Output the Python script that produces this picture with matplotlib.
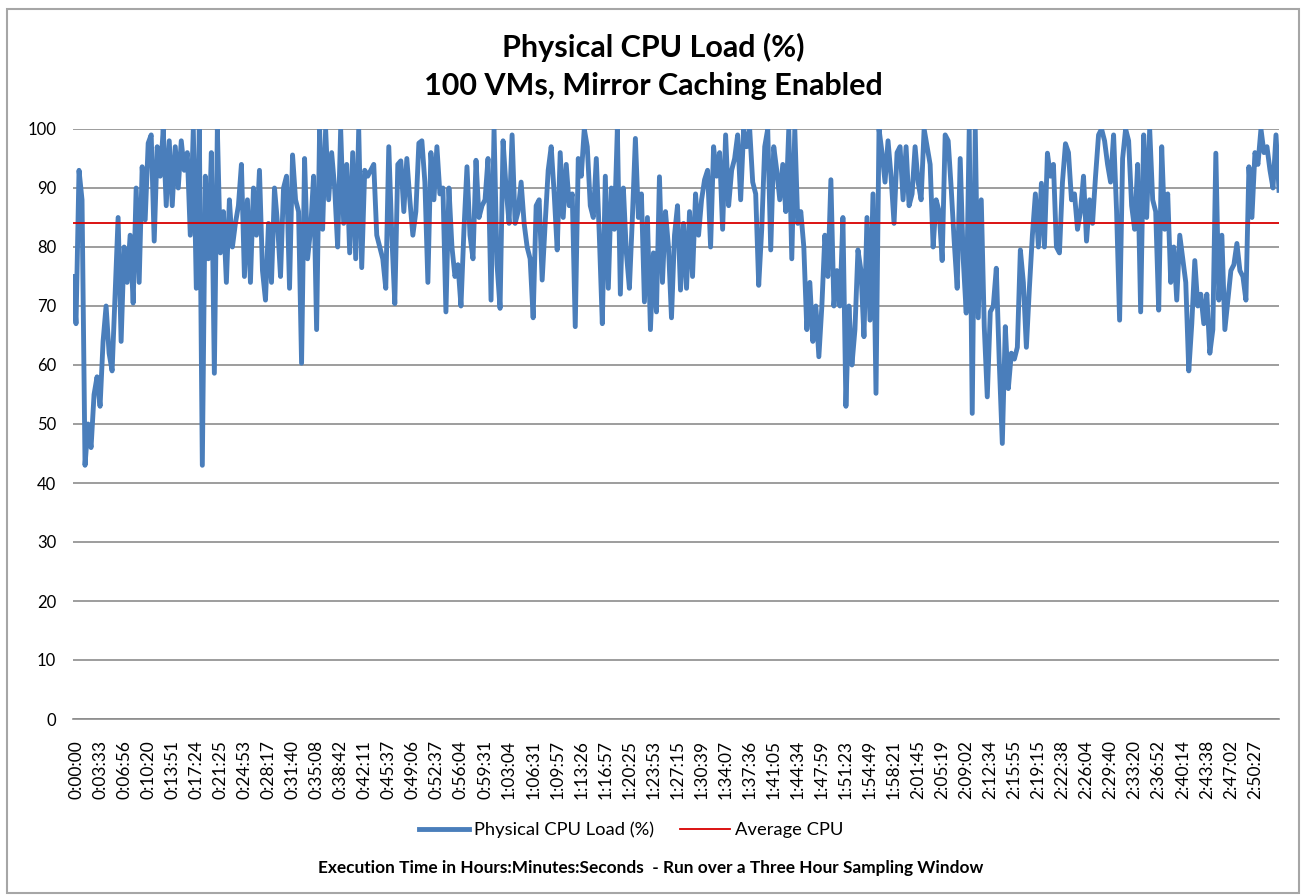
import matplotlib.pyplot as plt
import matplotlib.patches as patches
import numpy as np

# Physical CPU load samples (%) left to right
cpu_load = [
    75, 67, 93, 88, 43, 50, 46, 55, 58, 53, 64, 70, 62, 59, 72, 85, 64, 80, 74, 82,
    70.5, 90, 74, 93.6, 84.6, 97.6, 99, 81, 97, 92, 100, 87, 98, 87, 97, 90, 98, 93, 96, 82,
    100, 73, 100, 43, 92, 78, 96, 58.6, 100, 79, 86, 74, 88, 80, 84, 87, 94, 75, 88, 74,
    90, 82, 93, 76, 71, 84,
    74, 90, 84, 75, 90, 92, 73, 95.6, 88, 86, 60.3, 95, 78, 83, 92, 66, 100, 83, 100, 88,
    96, 90, 80, 100, 84, 94, 79, 96, 78, 100, 76.5, 93, 92, 93, 94, 82, 80, 78, 73, 97,
    82, 70.4, 94, 94.6, 86, 95, 88, 82, 86, 97.6, 98, 91, 74, 96, 88, 97, 89, 90, 69, 90,
    80, 75, 77, 70, 83, 93.6, 82,
    78, 94.7, 85, 87, 88, 95, 71, 100, 77, 69.6, 98, 90, 84, 99, 84, 86, 91, 84, 80, 78,
    68, 87, 88, 74.4, 84, 93, 97, 89, 79.5, 96, 85, 94, 87, 89, 66.5, 95, 92, 100, 97, 87,
    85, 95, 82, 67, 92, 73, 90, 83, 100, 72, 90, 79, 73, 85, 98.4, 85, 89, 70.7, 85, 66,
    79, 69, 91.9, 74, 86, 80, 68,
    82, 87, 72.7, 84, 73, 86, 75, 89, 82, 88, 91.4, 93, 80, 97, 92, 96, 83, 99, 87, 93,
    95, 99, 88, 100, 97, 100, 91, 89, 73.5, 83, 97, 100, 79.5, 97, 93, 88, 94, 86, 100, 78,
    100, 84, 86, 80, 66, 74, 64, 70, 61.4, 70, 82, 75, 91.4, 70, 76, 70, 85, 53, 70, 60,
    66, 79.5, 76, 64.8, 85, 67.6, 89,
    55.2, 100, 96, 91, 98, 92, 84, 96, 97, 88, 97, 87, 89, 97, 91, 88, 100, 97, 94, 80,
    88, 86, 77.7, 99, 98, 90, 81, 73, 95, 78, 68.8, 100, 51.8, 100, 68, 88, 66.5, 54.6, 69, 70,
    76.4, 60.3, 46.7, 66.5, 56, 62, 61, 63, 79.5, 74, 63, 73, 82, 89, 80, 90.8, 80, 95.9, 92, 94,
    80, 79, 91, 97.5, 96, 88,
    89, 83, 86, 92, 81, 88, 84, 92, 99, 100, 98, 94, 91, 99, 86, 67.6, 95, 100, 98, 87,
    83, 94, 69, 99, 85, 100, 88, 86, 69.3, 97, 83, 89, 74, 80, 71, 82, 78, 74, 59, 67,
    77.7, 70, 72, 67, 72, 62, 66, 95.9, 71, 82, 66, 71, 76, 77, 80.6, 76, 75, 71, 93.6, 85,
    96, 94, 100, 96, 97, 93, 90, 99, 89.6,
]

avg_cpu = 84.1

time_labels = [
    "0:00:00", "0:03:33", "0:06:56", "0:10:20", "0:13:51", "0:17:24", "0:21:25",
    "0:24:53", "0:28:17", "0:31:40", "0:35:08", "0:38:42", "0:42:11", "0:45:37",
    "0:49:06", "0:52:37", "0:56:04", "0:59:31", "1:03:04", "1:06:31", "1:09:57",
    "1:13:26", "1:16:57", "1:20:25", "1:23:53", "1:27:15", "1:30:39", "1:34:07",
    "1:37:36", "1:41:05", "1:44:34", "1:47:59", "1:51:23", "1:54:49", "1:58:21",
    "2:01:45", "2:05:19", "2:09:02", "2:12:34", "2:15:55", "2:19:15", "2:22:38",
    "2:26:04", "2:29:40", "2:33:20", "2:36:52", "2:40:14", "2:43:38", "2:47:02",
    "2:50:27",
]
samples_per_label = 8

plt.rcParams['font.family'] = ['Lato', 'DejaVu Sans']

fig = plt.figure(figsize=(13.01, 8.96), dpi=100)
ax = fig.add_axes([73 / 1301, 1 - 719 / 896, (1279 - 73) / 1301, (719 - 129) / 896])

x = np.arange(len(cpu_load))
ax.plot(x, cpu_load, color='#4a7ebb', lw=3.5, solid_joinstyle='round',
        label='Physical CPU Load (%)', zorder=3)
ax.axhline(avg_cpu, color='#d80000', lw=1.3, label='Average CPU', zorder=4)

ax.set_xlim(0, len(cpu_load) - 1)
ax.set_ylim(0, 100)
ax.set_yticks(np.arange(0, 101, 10))
ax.yaxis.grid(True, color='#8c8c8c', lw=1.2)
ax.set_axisbelow(True)

ax.set_xticks(np.arange(len(time_labels)) * samples_per_label + 1)
ax.set_xticklabels(time_labels, rotation=90, fontsize=12.5)
ax.tick_params(axis='x', length=0, pad=15)
ax.tick_params(axis='y', length=0, pad=12, labelsize=12)

for side in ['top', 'right', 'left']:
    ax.spines[side].set_visible(False)
ax.spines['bottom'].set_color('#8c8c8c')
ax.spines['bottom'].set_linewidth(1.2)

fig.text(0.502, 1 - 47 / 896, "Physical CPU Load (%)",
         ha='center', va='center', fontsize=22, fontweight='bold')
fig.text(0.502, 1 - 86 / 896, "100 VMs, Mirror Caching Enabled",
         ha='center', va='center', fontsize=22, fontweight='bold')

fig.legend(loc='center', bbox_to_anchor=(0.4854, 1 - 830 / 896), ncol=2, frameon=False,
           fontsize=13.2, handlelength=2.7, columnspacing=1.4, handletextpad=0.3)

fig.text(0.5, 1 - 868 / 896,
         "Execution Time in Hours:Minutes:Seconds  - Run over a Three Hour Sampling Window",
         ha='center', va='center', fontsize=12.4, fontweight='bold')

# light grey chart border
fig.patches.append(patches.Rectangle((7 / 1301, 3 / 896), 1292 / 1301, 884 / 896,
                                     transform=fig.transFigure, fill=False,
                                     edgecolor='#a6a6a6', lw=1.5))

fig.savefig('out.png', dpi=100)
